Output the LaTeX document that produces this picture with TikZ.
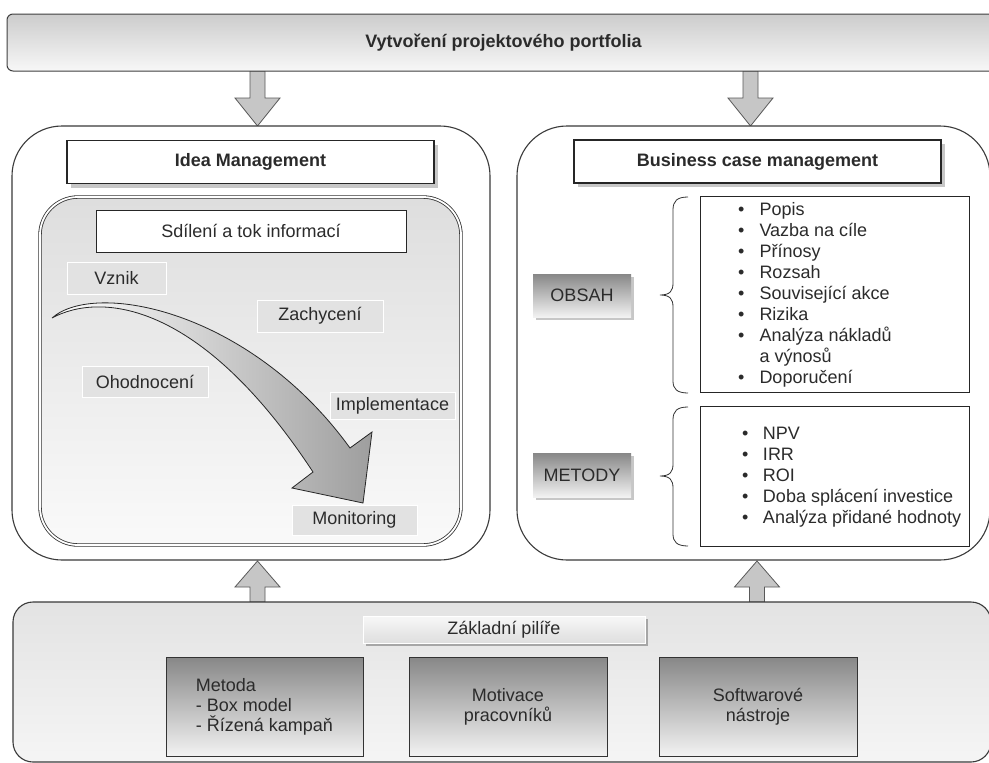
\documentclass[tikz,border=0pt]{standalone}
\usepackage{fontspec}
\setmainfont{Liberation Sans}
\usetikzlibrary{shadows}

\definecolor{ink}{HTML}{2B2B2B}
\definecolor{frame}{HTML}{3A3A3A}
\definecolor{arrowgray}{HTML}{C6C6C6}
\definecolor{labelgray}{HTML}{E2E2E2}

\tikzset{
  every node/.style={font=\fontsize{18}{21}\selectfont, text=ink},
  bigpanel/.style={draw=frame, line width=1.1pt, fill=white, rounded corners=50pt},
  titlebox/.style={draw=black!85, line width=1.1pt, fill=white,
    font=\fontsize{18}{21}\selectfont\bfseries,
    drop shadow={shadow xshift=4pt, shadow yshift=-4pt, fill=black!22, opacity=1}},
  plainbox/.style={draw=black!85, line width=1pt, fill=white},
  stage/.style={fill=labelgray, draw=white, line width=1pt, inner sep=0pt},
  darkgrad/.style={top color=black!47, bottom color=black!5},
  tag/.style={darkgrad, inner sep=0pt,
    drop shadow={shadow xshift=3pt, shadow yshift=-3pt, fill=black!22, opacity=1}},
  pillar/.style={darkgrad, draw=black!80, line width=0.9pt,
    font=\fontsize{18}{20}\selectfont},
  fatarrow/.style={fill=arrowgray, draw=black!65, line width=0.8pt},
  braceline/.style={draw=black!80, line width=0.8pt},
  pics/downarrow/.style={code={
    \draw[fatarrow] (-7.5,0) -- (7.5,0) -- (7.5,27) -- (22.5,27) -- (0,55)
      -- (-22.5,27) -- (-7.5,27) -- cycle;}},
  pics/uparrow/.style={code={
    \draw[fatarrow] (-7.5,0) -- (7.5,0) -- (7.5,-15) -- (22.5,-15) -- (0,-41)
      -- (-22.5,-15) -- (-7.5,-15) -- cycle;}},
}

\begin{document}
\begin{tikzpicture}[x=1pt, y=-1pt]
\useasboundingbox (0,0) rectangle (989,763);
\clip (0,0) rectangle (989,763);
\fill[white] (0,0) rectangle (989,763);

% block arrows between the layers
\coordinate (downL) at (257.5,71);
\coordinate (downR) at (750.5,71);
\coordinate (upL) at (257.5,602);
\coordinate (upR) at (757,602);
\pic at (downL) {downarrow};
\pic at (downR) {downarrow};
\pic at (upL) {uparrow};
\pic at (upR) {uparrow};

% top bar
\node[draw=black!75, line width=1pt, rounded corners=6pt,
      top color=black!20, bottom color=black!3,
      minimum width=993pt, minimum height=57pt,
      font=\fontsize{18}{21}\selectfont\bfseries] (portfolio) at (503.5,42.5)
      {Vytvoření projektového portfolia};

% two main panels
\node[bigpanel, minimum width=478pt, minimum height=434pt] (ideapanel) at (251,343) {};
\node[bigpanel, minimum width=473pt, minimum height=434pt] (bizpanel) at (753.5,343) {};

\node[titlebox, minimum width=367pt, minimum height=43pt] (ideatitle) at (250.5,162) {Idea Management};
\node[titlebox, minimum width=367pt, minimum height=43pt] (biztitle) at (757.5,161.5) {Business case management};

% information flow panel
\node[draw=black!80, double=white, double distance=1.8pt, line width=0.8pt,
      rounded corners=38pt, top color=black!13, bottom color=black!2,
      minimum width=421pt, minimum height=348pt] (flowpanel) at (250.5,371) {};
\node[plainbox, minimum width=310pt, minimum height=42pt] (share) at (251,231) {Sdílení a tok informací};

% curved process arrow
\draw[draw=black!85, line width=0.8pt, left color=white, right color=black!38]
  (52,318) .. controls (95,280) and (250,310) .. (350,448)
  -- (372,432) -- (363,503) -- (292,488) -- (313,472)
  .. controls (200,300) and (100,292) .. (52,318) -- cycle;

\node[stage, minimum width=99pt, minimum height=32pt] (vznik) at (116.5,278) {Vznik};
\node[stage, minimum width=126pt, minimum height=32pt] (zachyceni) at (320,316) {Zachycení};
\node[stage, minimum width=126pt, minimum height=31pt] (ohodnoceni) at (145,381.5) {Ohodnocení};
\node[stage, minimum width=125pt, minimum height=27pt] (implementace) at (392.5,406) {Implementace};
\node[stage, minimum width=125pt, minimum height=30pt] (monitoring) at (354.5,520) {Monitoring};

% business case: contents and methods
\node[tag, minimum width=98pt, minimum height=43pt] (obsah) at (582,295.5) {OBSAH};
\node[tag, minimum width=98pt, minimum height=44pt] (metody) at (582,475) {METODY};

\draw[braceline] (688,197) .. controls (677,197) and (673,201) .. (673,210)
  -- (673,283) .. controls (673,291) and (670,295) .. (660,295)
  .. controls (670,295) and (673,299) .. (673,307)
  -- (673,381) .. controls (673,389) and (677,393) .. (688,393);
\draw[braceline] (688,407) .. controls (677,407) and (673,411) .. (673,420)
  -- (673,464) .. controls (673,472) and (670,476) .. (660,476)
  .. controls (670,476) and (673,480) .. (673,488)
  -- (673,534) .. controls (673,542) and (677,546) .. (688,546);

\node[plainbox, minimum width=269pt, minimum height=196pt] (obsahbox) at (834.5,294) {};
\node[anchor=base west, inner sep=0pt] (obsahlist) at (738,215) {%
  \begin{tabular}[t]{@{}l@{\hspace{15pt}}l@{}}
  \textbullet & Popis\\
  \textbullet & Vazba na cíle\\
  \textbullet & Přínosy\\
  \textbullet & Rozsah\\
  \textbullet & Související akce\\
  \textbullet & Rizika\\
  \textbullet & Analýza nákladů\\
              & a výnosů\\
  \textbullet & Doporučení
  \end{tabular}};

\node[plainbox, minimum width=269pt, minimum height=140pt] (metodybox) at (834.5,476) {};
\node[anchor=base west, inner sep=0pt] (metodylist) at (742,439) {%
  \begin{tabular}[t]{@{}l@{\hspace{14.5pt}}l@{}}
  \textbullet & NPV\\
  \textbullet & IRR\\
  \textbullet & ROI\\
  \textbullet & Doba splácení investice\\
  \textbullet & Analýza přidané hodnoty
  \end{tabular}};

% foundation layer
\node[draw=frame, line width=1.1pt, rounded corners=20pt,
      top color=black!11, bottom color=black!4,
      minimum width=978pt, minimum height=160pt] (basepanel) at (502,682) {};
\node[top color=black!3, bottom color=black!13, draw=white, line width=1pt,
      minimum width=282pt, minimum height=27pt, inner sep=0pt,
      drop shadow={shadow xshift=3pt, shadow yshift=-3pt, fill=black!35, opacity=1}]
      (pilire) at (504,629.5) {Základní pilíře};

\node[pillar, minimum width=197pt, minimum height=99pt, align=left] (metoda) at (264.5,706.5)
  {Metoda\\- Box model\\- Řízená kampaň};
\node[pillar, minimum width=198pt, minimum height=99pt, align=center] (motivace) at (508,706.5)
  {Motivace\\pracovníků};
\node[pillar, minimum width=198pt, minimum height=99pt, align=center] (software) at (758,706.5)
  {Softwarové\\nástroje};
\end{tikzpicture}
\end{document}
